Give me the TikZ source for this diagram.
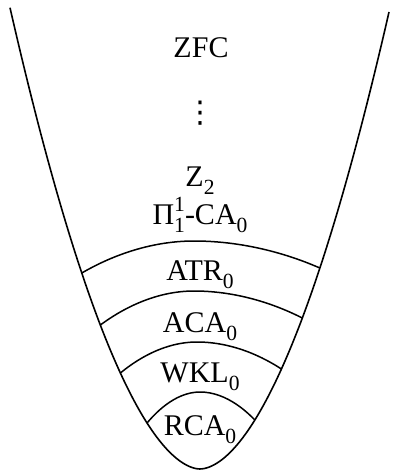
\documentclass[tikz,border=0pt]{standalone}
\usepackage{graphicx}
\usepackage{fontspec}
\setmainfont{Liberation Serif}
\newfontfamily\symfont{DejaVu Sans}

\newcommand{\lsub}[1]{\raisebox{-0.28em}{\scalebox{0.72}{#1}}}
\newcommand{\lsupsub}[2]{\makebox[0pt][l]{\raisebox{0.42em}{\scalebox{0.72}{#1}}}\raisebox{-0.28em}{\scalebox{0.72}{#2}}}

\begin{document}
\begin{tikzpicture}[x=1pt,y=-1pt]
\tikzset{
  declare function={bowlx(\h)=6.35*pow(469-\h,0.554);},
  bowl/.style={line width=1.6pt,line join=round},
  level/.style={line width=1.5pt},
  theory/.style={anchor=base,inner sep=0pt,font=\fontsize{30}{36}\selectfont}
}
\useasboundingbox (0,0) rectangle (392,472);
\coordinate (c_atrL) at ({200-bowlx(273)},273);
\coordinate (c_atrT) at (194,241);
\coordinate (c_atrR) at ({200+bowlx(268)},268);
\coordinate (c_acaL) at ({200-bowlx(325)},325);
\coordinate (c_acaT) at (194,291);
\coordinate (c_acaR) at ({200+bowlx(318)},318);
\coordinate (c_wklL) at ({200-bowlx(373)},373);
\coordinate (c_wklT) at (197,342);
\coordinate (c_wklR) at ({200+bowlx(369)},369);
\coordinate (c_rcaL) at ({200-bowlx(423)},423);
\coordinate (c_rcaT) at (200,392);
\coordinate (c_rcaR) at ({200+bowlx(420)},420);
\draw[bowl] plot[domain=-190:189,samples=151,smooth] ({200+\x},{469-pow(abs(\x)/6.35,1.805)});
\draw[level] (c_atrL) parabola bend (c_atrT) (c_atrR);
\draw[level] (c_acaL) parabola bend (c_acaT) (c_acaR);
\draw[level] (c_wklL) parabola bend (c_wklT) (c_wklR);
\draw[level] (c_rcaL) parabola bend (c_rcaT) (c_rcaR);
\node[theory] (t_zfc) at (201,57) {ZFC};
\node[theory,anchor=center] (t_dots) at (200,113) {\symfont ⋮};
\node[theory] (t_ztwo) at (200,186) {Z\lsub{2}};
\node[theory] (t_pica) at (200,224) {Π\lsupsub{1}{1}-CA\lsub{0}};
\node[theory] (t_atr) at (200,280) {ATR\lsub{0}};
\node[theory] (t_aca) at (200,332) {ACA\lsub{0}};
\node[theory] (t_wkl) at (200,382) {WKL\lsub{0}};
\node[theory] (t_rca) at (200,435) {RCA\lsub{0}};
\end{tikzpicture}
\end{document}
